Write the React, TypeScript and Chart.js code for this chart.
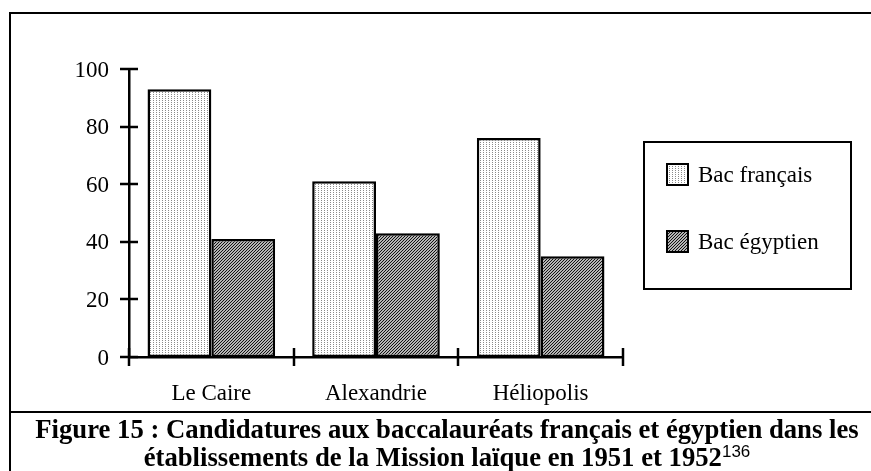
import React, { useEffect, useRef, useState } from "react";
import { Chart, registerables } from "chart.js";
Chart.register(...registerables);

const categories = ["Le Caire", "Alexandrie", "Héliopolis"];
const seriesNames = ["Bac français", "Bac égyptien"];
const bacFrancais = [93, 61, 76];
const bacEgyptien = [41, 43, 35];
const yMin = 0;
const yMax = 100;
const yStep = 20;
const captionLine1 = "Figure 15 : Candidatures aux baccalauréats français et égyptien dans les";
const captionLine2 = "établissements de la Mission laïque en 1951 et 1952";
const footnoteRef = "136";

const SERIF = "'Liberation Serif', 'Times New Roman', serif";
const CANVAS_LEFT = 11;
const CANVAS_TOP = 14;
const LEG = { x: 633, y: 128, w: 207, h: 147, swX: 655, swY: 149, sw: 23, gap: 67, textX: 687 };

function dotPattern(ctx: CanvasRenderingContext2D) {
  const c = document.createElement("canvas");
  c.width = 3;
  c.height = 2;
  const g = c.getContext("2d")!;
  g.fillStyle = "#ffffff";
  g.fillRect(0, 0, 3, 2);
  g.fillStyle = "#8a8a8a";
  g.fillRect(1, 0, 1, 1);
  return ctx.createPattern(c, "repeat")!;
}

function hatchPattern(ctx: CanvasRenderingContext2D) {
  const c = document.createElement("canvas");
  c.width = 3;
  c.height = 3;
  const g = c.getContext("2d")!;
  g.fillStyle = "#b4b4b4";
  g.fillRect(0, 0, 3, 3);
  g.fillStyle = "#111111";
  for (let x = 0; x < 3; x++) {
    for (let y = 0; y < 3; y++) {
      if ((x + y) % 3 === 0) g.fillRect(x, y, 1, 1);
    }
  }
  return ctx.createPattern(c, "repeat")!;
}

const crossTicks = {
  id: "crossTicks",
  afterDraw(chart: any) {
    const { ctx, chartArea, scales } = chart;
    const xs = scales.x;
    const ys = scales.y;
    ctx.save();
    ctx.strokeStyle = "#000";
    ctx.lineWidth = 2.5;
    ys.ticks.forEach((_t: any, i: number) => {
      const py = Math.round(ys.getPixelForTick(i));
      ctx.beginPath();
      ctx.moveTo(chartArea.left - 9, py);
      ctx.lineTo(chartArea.left + 9, py);
      ctx.stroke();
    });
    for (let i = 0; i <= categories.length; i++) {
      const px = Math.round(xs.getPixelForValue(i - 0.5));
      ctx.beginPath();
      ctx.moveTo(px, chartArea.bottom - 9);
      ctx.lineTo(px, chartArea.bottom + 9);
      ctx.stroke();
    }
    ctx.restore();
  },
};

const boxLegend = {
  id: "boxLegend",
  afterDraw(chart: any) {
    const ctx = chart.ctx as CanvasRenderingContext2D;
    ctx.save();
    ctx.strokeStyle = "#000";
    ctx.lineWidth = 2;
    ctx.strokeRect(LEG.x, LEG.y, LEG.w, LEG.h);
    chart.data.datasets.forEach((ds: any, i: number) => {
      const sy = LEG.swY + i * LEG.gap;
      ctx.fillStyle = ds.backgroundColor;
      ctx.fillRect(LEG.swX, sy, LEG.sw, LEG.sw);
      ctx.strokeRect(LEG.swX + 1, sy + 1, LEG.sw - 2, LEG.sw - 2);
    });
    ctx.restore();
  },
};

type Pos = {
  y: { text: string; py: number }[];
  x: { text: string; px: number }[];
  left: number;
  bottom: number;
};

export default function App() {
  const ref = useRef<HTMLCanvasElement>(null);
  const [pos, setPos] = useState<Pos | null>(null);

  useEffect(() => {
    document.body.style.margin = "0";
    const canvas = ref.current!;
    const ctx = canvas.getContext("2d")!;
    const fr = dotPattern(ctx);
    const eg = hatchPattern(ctx);
    const chart = new Chart(canvas, {
      type: "bar",
      data: {
        labels: categories,
        datasets: [
          {
            label: seriesNames[0],
            data: bacFrancais,
            backgroundColor: fr as any,
            borderColor: "#000",
            borderWidth: 2.5,
            borderSkipped: false,
            categoryPercentage: 0.775,
            barPercentage: 1,
          },
          {
            label: seriesNames[1],
            data: bacEgyptien,
            backgroundColor: eg as any,
            borderColor: "#000",
            borderWidth: 2.5,
            borderSkipped: false,
            categoryPercentage: 0.775,
            barPercentage: 1,
          },
        ],
      },
      options: {
        animation: false,
        responsive: false,
        devicePixelRatio: 1,
        layout: { padding: { top: 55, right: 248, left: 0, bottom: 0 } },
        plugins: { legend: { display: false }, tooltip: { enabled: false } },
        scales: {
          x: {
            offset: true,
            grid: { display: false },
            border: { display: true, color: "#000", width: 2.5 },
            ticks: { display: false },
            afterFit: (s: any) => {
              s.height = 54;
            },
          },
          y: {
            min: yMin,
            max: yMax,
            grid: { display: false },
            border: { display: true, color: "#000", width: 2.5 },
            ticks: { stepSize: yStep, display: false },
            afterFit: (s: any) => {
              s.width = 118;
            },
          },
        },
      },
      plugins: [crossTicks, boxLegend],
    });
    const xs: any = chart.scales.x;
    const ys: any = chart.scales.y;
    setPos({
      y: ys.ticks.map((t: any) => ({ text: String(t.value), py: ys.getPixelForValue(t.value) })),
      x: categories.map((c, i) => ({ text: c, px: xs.getPixelForValue(i) })),
      left: chart.chartArea.left,
      bottom: chart.chartArea.bottom,
    });
    return () => chart.destroy();
  }, []);

  const txt: React.CSSProperties = {
    position: "absolute",
    fontFamily: SERIF,
    fontSize: 23,
    lineHeight: "23px",
    color: "#000",
    whiteSpace: "nowrap",
  };

  return (
    <div style={{ position: "absolute", left: 0, top: 0, width: 871, height: 471, overflow: "hidden", background: "#fff" }}>
      <div style={{ position: "absolute", left: 9, top: 12, width: 900, height: 500, borderLeft: "2px solid #000", borderTop: "2px solid #000" }} />
      <canvas ref={ref} width={860} height={397} style={{ position: "absolute", left: CANVAS_LEFT, top: CANVAS_TOP, width: 860, height: 397 }} />
      <div style={{ position: "absolute", left: CANVAS_LEFT, top: CANVAS_TOP, width: 860, height: 397 }}>
        {pos &&
          pos.y.map((t) => (
            <div key={"y" + t.text} style={{ ...txt, left: 0, width: pos.left - 20, top: t.py - 11.5, textAlign: "right" }}>
              {t.text}
            </div>
          ))}
        {pos &&
          pos.x.map((t) => (
            <div key={"x" + t.text} style={{ ...txt, left: t.px - 100, width: 200, top: pos.bottom + 24, textAlign: "center" }}>
              {t.text}
            </div>
          ))}
        {seriesNames.map((s, i) => (
          <div key={"l" + i} style={{ ...txt, left: LEG.textX, top: LEG.swY + i * LEG.gap }}>
            {s}
          </div>
        ))}
      </div>
      <div style={{ position: "absolute", left: 10, top: 411, width: 900, height: 2, background: "#000" }} />
      <div
        style={{
          position: "absolute",
          left: 10,
          top: 415,
          width: 874,
          textAlign: "center",
          fontFamily: SERIF,
          fontWeight: "bold",
          fontSize: 26.7,
          lineHeight: "28px",
          color: "#000",
          whiteSpace: "nowrap",
        }}
      >
        <div>{captionLine1}</div>
        <div>
          {captionLine2}
          <span style={{ fontFamily: "'Liberation Sans', Arial, sans-serif", fontWeight: "normal", fontSize: 17, verticalAlign: "9px", lineHeight: 0 }}>
            {footnoteRef}
          </span>
        </div>
      </div>
    </div>
  );
}
